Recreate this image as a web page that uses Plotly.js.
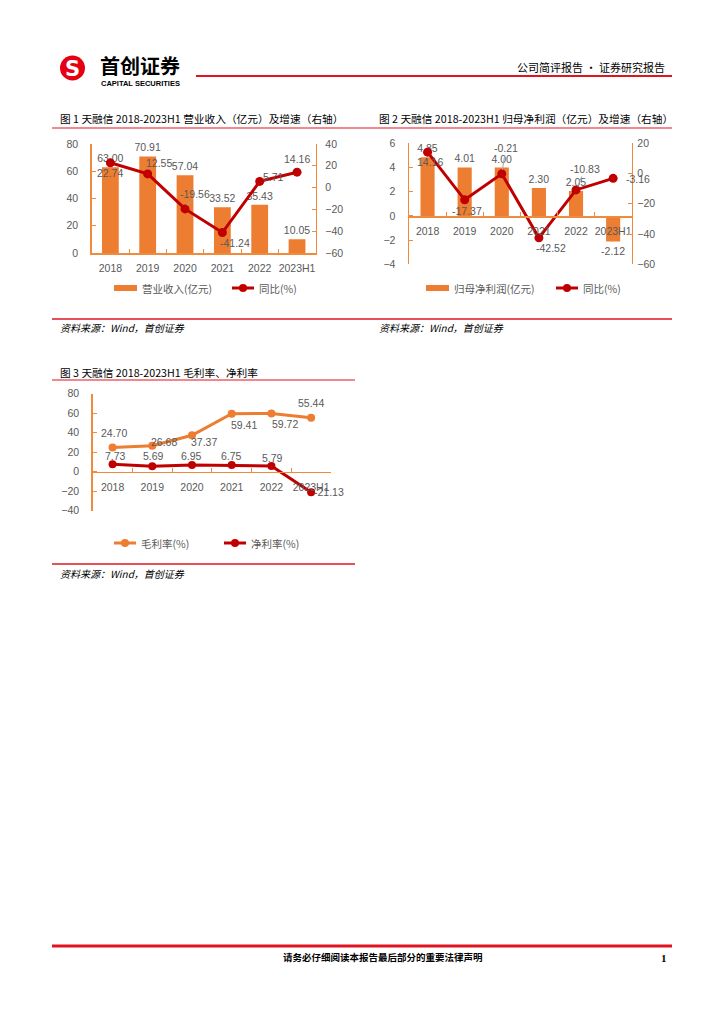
<!DOCTYPE html>
<html>
<head>
<meta charset="utf-8">
<script src="https://cdn.plot.ly/plotly-3.0.1.min.js"></script>
<style>html,body{margin:0;padding:0;background:#fff;}#chart{width:724px;height:1024px;}</style>
</head>
<body>
<div id="chart"></div>
<script>
// ---------- data ----------
const years = ['2018', '2019', '2020', '2021', '2022', '2023H1'];
const revenue = [63.00, 70.91, 57.04, 33.52, 35.43, 10.05];
const revenueYoY = [22.74, 12.55, -19.56, -41.24, 5.71, 14.16];
const netProfit = [4.85, 4.01, 4.00, 2.30, 2.05, -2.12];
const netProfitYoY = [14.16, -17.37, -0.21, -42.52, -10.83, -3.16];
const grossMargin = [24.70, 26.68, 37.37, 59.41, 59.72, 55.44];
const netMargin = [7.73, 5.69, 6.95, 6.75, 5.79, -21.13];

// ---------- label placement (pixel offsets from each point: [dx, dy up, leader line]) ----------
const offRevYoY = [[0, -10], [11, 11], [10, 15, 1], [13, -10], [14, 4], [0, 13]];
const offNpYoY = [[2, -10], [2, -11], [4, 26, 1], [12, -10], [9, 21, 1], [25, -1]];
const offGross = [[1, 15], [12, 4], [12, -7], [12, -11], [14, -11], [0, 15]];
const offNet = [[3, 8], [1, 10], [0, 9], [0, 9], [1, 8], [18, 0]];

// ---------- style ----------
const W = 724, H = 1024;
const X = p => p / W, Y = p => 1 - p / H;
const ORANGE = '#ED7D31', RED = '#C00000', AXIS = '#F08A3C', GRAY = '#595959', LINE_RED = '#E0141E';
const numFont = {family: 'Liberation Sans Narrow, Liberation Sans, Arial, sans-serif', size: 10.5, color: GRAY};
const cjk = 'Noto Sans CJK SC, sans-serif';
const fmt = v => v.toFixed(2);

const bar = (x, y, xa, ya, w) => ({
  type: 'bar', x, y, xaxis: xa, yaxis: ya, width: w,
  marker: {color: ORANGE}, text: y.map(fmt), textposition: 'outside', constraintext: 'none',
  textfont: numFont, cliponaxis: false, hoverinfo: 'skip'
});
const line = (x, y, xa, ya, color, msize) => ({
  type: 'scatter', mode: 'lines+markers', x, y, xaxis: xa, yaxis: ya,
  line: {color, width: 3}, marker: {color, size: msize}, cliponaxis: false, hoverinfo: 'skip'
});

const traces = [
  bar(years, revenue, 'x', 'y', 0.45),
  line(years, revenueYoY, 'x', 'y2', RED, 9),
  bar(years, netProfit, 'x2', 'y3', 0.38),
  line(years, netProfitYoY, 'x2', 'y4', RED, 9),
  line(years, grossMargin, 'x3', 'y5', ORANGE, 8),
  line(years, netMargin, 'x3', 'y5', RED, 8)
];

const xAx = (dom, extra) => Object.assign({
  domain: dom, type: 'category', range: [-0.5, 5.5], showline: true, linecolor: AXIS, linewidth: 1.5,
  ticks: 'inside', tickson: 'boundaries', ticklen: 4, tickcolor: AXIS, showgrid: false, zeroline: false,
  tickfont: numFont, tickangle: 0, ticklabelstandoff: 5, fixedrange: true
}, extra);
const yAx = (dom, range, dtick, extra) => Object.assign({
  domain: dom, range, dtick, tick0: 0, showline: true, linecolor: AXIS, linewidth: 1.5,
  ticks: 'inside', ticklen: 4, tickcolor: AXIS, showgrid: false, zeroline: false,
  tickfont: numFont, ticklabelstandoff: 10, fixedrange: true
}, extra);

const shapes = [];
const annotations = [];
const hline = (x0, x1, y, w, c) => shapes.push({type: 'line', xref: 'paper', yref: 'paper', x0: X(x0), x1: X(x1), y0: Y(y), y1: Y(y), line: {color: c || LINE_RED, width: w}});
const txt = (x, y, t, size, opts) => annotations.push(Object.assign({xref: 'paper', yref: 'paper', x: X(x), y: Y(y), text: t, showarrow: false, xanchor: 'left', yanchor: 'middle', font: {family: cjk, size, color: '#000'}}, opts || {}));

// data labels for the lines (category index used as x position)
const lineLabels = (vals, xa, ya, offs) => vals.forEach((v, i) => {
  const o = offs[i];
  const a = {xref: xa, yref: ya, x: i, y: v, text: fmt(v), font: numFont, xanchor: 'center', yanchor: 'middle'};
  if (o[2]) {
    Object.assign(a, {showarrow: true, arrowhead: 0, arrowwidth: 1, arrowcolor: '#A6A6A6', ax: o[0], ay: -o[1], standoff: 4});
  } else {
    Object.assign(a, {showarrow: false, xshift: o[0], yshift: o[1]});
  }
  annotations.push(a);
});
lineLabels(revenueYoY, 'x', 'y2', offRevYoY);
lineLabels(netProfitYoY, 'x2', 'y4', offNpYoY);
lineLabels(grossMargin, 'x3', 'y5', offGross);
lineLabels(netMargin, 'x3', 'y5', offNet);

// header
shapes.push({type: 'circle', xref: 'paper', yref: 'paper', x0: X(60), x1: X(85), y0: Y(80.5), y1: Y(55.5), fillcolor: '#E60012', line: {width: 0}});
txt(72.5, 68.5, '<b>S</b>', 21, {xanchor: 'center', font: {family: 'DejaVu Sans, sans-serif', size: 21, color: '#fff'}});
txt(98, 65.5, '<b>首创证券</b>', 20);
txt(99, 83, '<b>CAPITAL SECURITIES</b>', 7.5, {font: {family: 'Liberation Sans, Arial, sans-serif', size: 7.5, color: '#000'}});
hline(196, 672, 76, 2.2);
txt(667, 67, '公司简评报告 · 证券研究报告', 11, {xanchor: 'right'});

// figure titles
txt(58, 118, '图 1 天融信 2018-2023H1 营业收入（亿元）及增速（右轴）', 10.7);
txt(377, 118, '图 2 天融信 2018-2023H1 归母净利润（亿元）及增速（右轴）', 10.7);
hline(52, 672, 128, 1.2);
txt(58, 372, '图 3 天融信 2018-2023H1 毛利率、净利率', 10.7);
hline(52, 355, 380, 1.2);

// legends
const legBar = (x0, y, label) => {
  shapes.push({type: 'rect', xref: 'paper', yref: 'paper', x0: X(x0), x1: X(x0 + 23), y0: Y(y + 3), y1: Y(y - 3), fillcolor: ORANGE, line: {width: 0}});
  txt(x0 + 26, y, label, 10.5, {font: {family: cjk, size: 10.5, color: GRAY}});
};
const legLine = (x0, y, color, label) => {
  shapes.push({type: 'line', xref: 'paper', yref: 'paper', x0: X(x0), x1: X(x0 + 22), y0: Y(y), y1: Y(y), line: {color, width: 3}});
  shapes.push({type: 'circle', xref: 'paper', yref: 'paper', x0: X(x0 + 11 - 4), x1: X(x0 + 11 + 4), y0: Y(y + 4), y1: Y(y - 4), fillcolor: color, line: {width: 0}});
  txt(x0 + 25, y, label, 10.5, {font: {family: cjk, size: 10.5, color: GRAY}});
};
legBar(114, 288, '营业收入(亿元)');
legLine(232, 288, RED, '同比(%)');
legBar(426, 288, '归母净利润(亿元)');
legLine(556, 288, RED, '同比(%)');
legLine(114, 543, ORANGE, '毛利率(%)');
legLine(224, 543, RED, '净利率(%)');

// sources
hline(52, 672, 319, 1.5);
const srcFont = {family: cjk, size: 10, color: '#000'};
txt(58, 327.5, '<i>资料来源：Wind，首创证券</i>', 10, {font: srcFont});
txt(377, 327.5, '<i>资料来源：Wind，首创证券</i>', 10, {font: srcFont});
hline(52, 355, 564, 1.5);
txt(58, 573, '<i>资料来源：Wind，首创证券</i>', 10, {font: srcFont});

// footer
hline(52, 672, 946, 3);
txt(383, 957, '<b>请务必仔细阅读本报告最后部分的重要法律声明</b>', 9.5, {xanchor: 'center'});
txt(669, 958, '<b>1</b>', 11, {xanchor: 'right', font: {family: 'Liberation Serif, serif', size: 11, color: '#000'}});

const layout = {
  width: W, height: H, margin: {l: 0, r: 0, t: 0, b: 0}, showlegend: false,
  paper_bgcolor: '#fff', plot_bgcolor: 'rgba(0,0,0,0)',
  xaxis: xAx([X(91.7), X(315.7)], {anchor: 'y'}),
  yaxis: yAx([Y(253), Y(144)], [0, 80], 20, {anchor: 'x'}),
  yaxis2: yAx([Y(253), Y(144)], [-60, 40], 20, {anchor: 'x', overlaying: 'y', side: 'right', ticklabelstandoff: 6}),
  xaxis2: xAx([X(409), X(631.7)], {anchor: 'free', position: Y(216)}),
  yaxis3: yAx([Y(264.3), Y(143.3)], [-4, 6], 2, {anchor: 'x2'}),
  yaxis4: yAx([Y(264.3), Y(143.3)], [-60, 20], 20, {anchor: 'x2', overlaying: 'y3', side: 'right', ticklabelstandoff: 2}),
  xaxis3: xAx([X(92.7), X(331)], {anchor: 'free', position: Y(471.7)}),
  yaxis5: yAx([Y(510.7), Y(393.7)], [-40, 80], 20, {anchor: 'x3'}),
  shapes, annotations
};

Plotly.newPlot('chart', traces, layout, {staticPlot: true, displayModeBar: false});
</script>
</body>
</html>
